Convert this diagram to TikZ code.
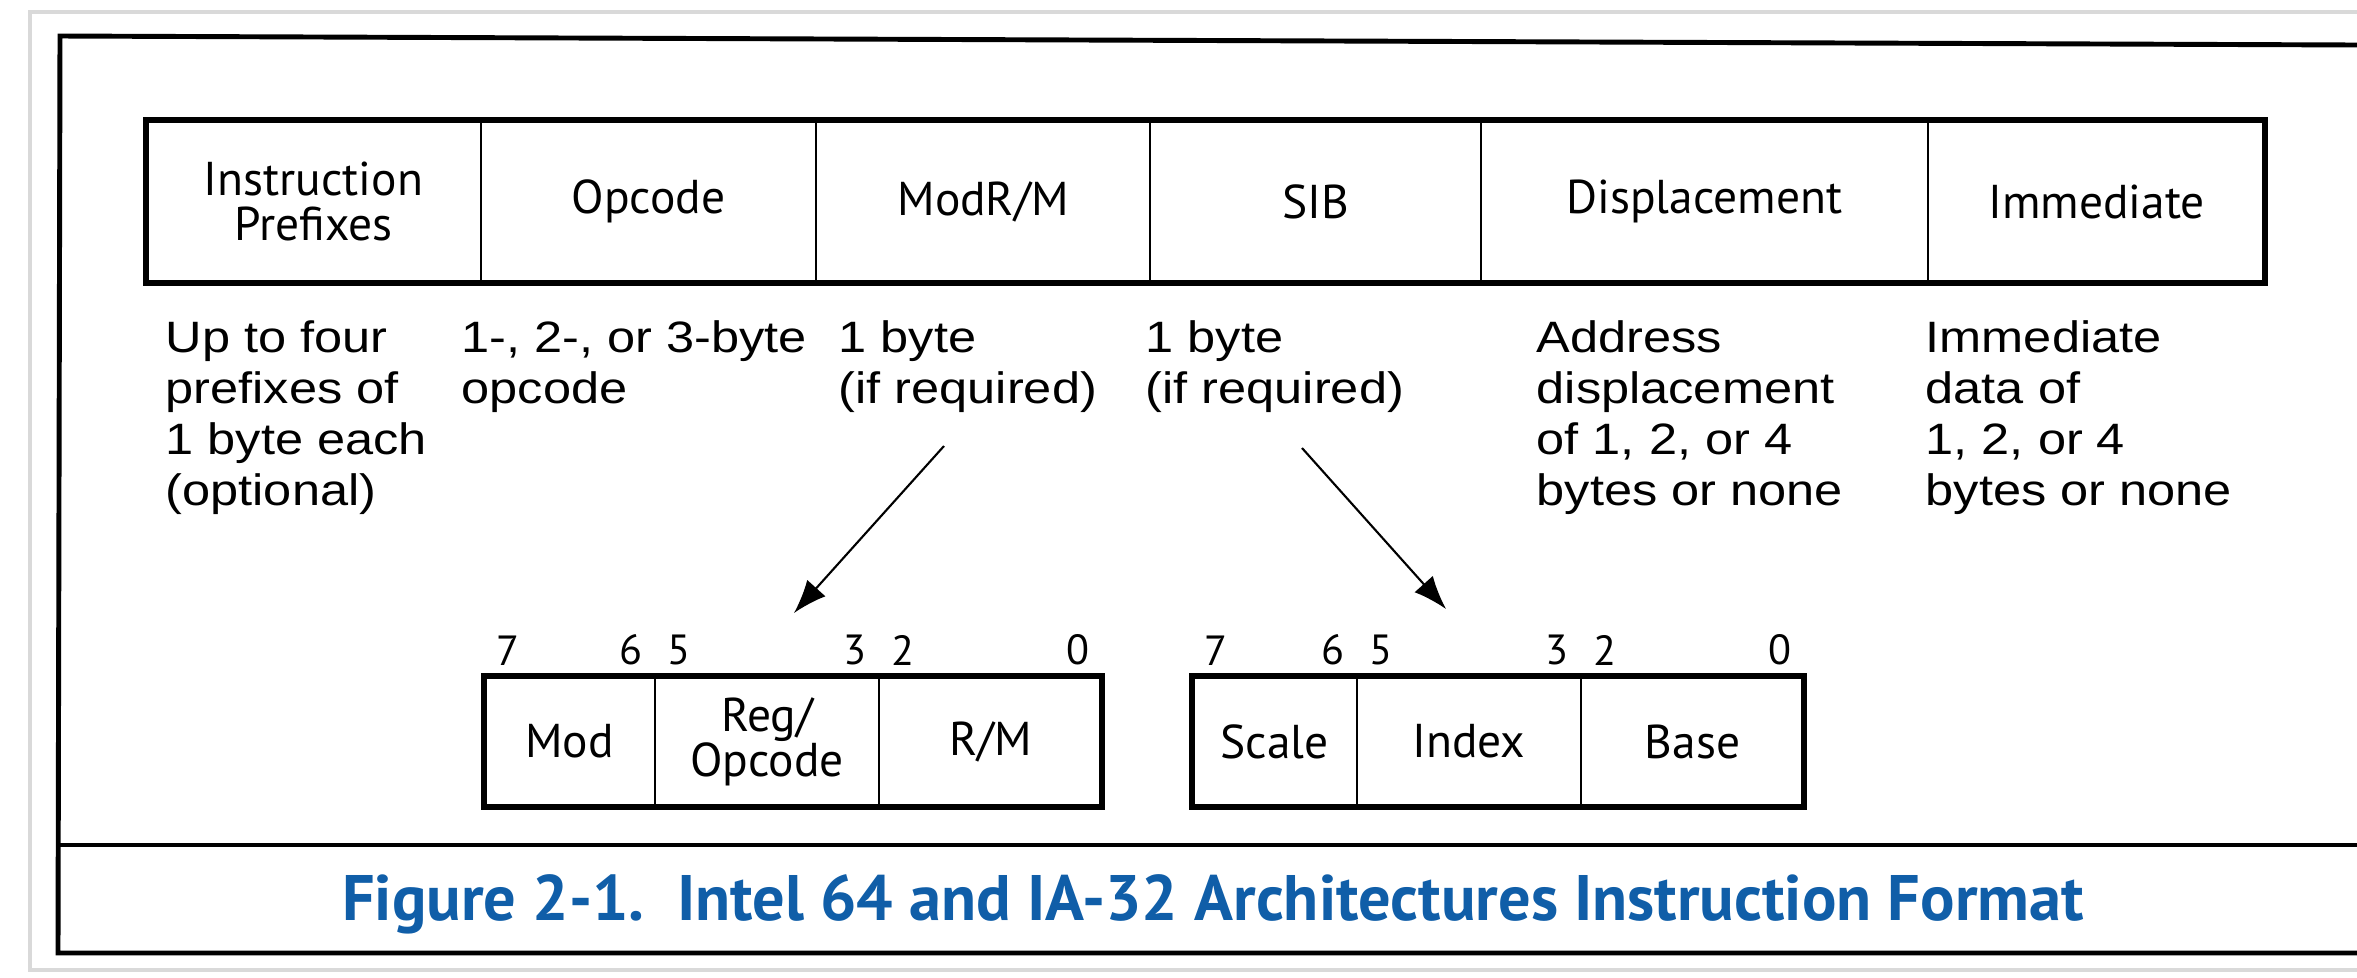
\documentclass[tikz,border=0pt]{standalone}
\usepackage{fontspec}
\usepackage{tikz}
\usetikzlibrary{positioning,arrows.meta}
\setmainfont{Liberation Sans}[FakeStretch=1.15]
\newfontfamily\clearfont{PT Sans}
\newfontfamily\capfont{PT Sans}
\definecolor{capblue}{RGB}{16,94,168}

\begin{document}
\begin{tikzpicture}
        \tikzstyle{every node}+=[inner sep=0pt]
        \tikzstyle{field}=[draw, line width=0.8pt, outer sep=0pt, minimum height=1.63cm, align=center, font=\clearfont\fontsize{13.5}{12.8}\selectfont]
        \tikzstyle{bitfield}=[draw, line width=0.8pt, outer sep=0pt, minimum height=1.31cm, align=center, font=\clearfont\fontsize{13.5}{12.8}\selectfont]
        \tikzstyle{bitno}=[inner xsep=0.12cm, inner ysep=0.1cm, font=\clearfont\fontsize{12}{12}\selectfont]
        \tikzstyle{desc}=[anchor=north west, align=left, font=\fontsize{12.5}{14.5}\selectfont]
        \tikzstyle{ptr}=[line width=0.6pt, -{Latex[length=9.5pt,width=7pt]}]
        \useasboundingbox (0,0) rectangle (23.57,-9.78);
        % frame
        \draw [black!15, line width=1pt] (23.57,-0.12) -- (0.30,-0.12) -- (0.30,-9.70) -- (23.57,-9.70);
        \draw [black, line width=1.4pt] (23.57,-0.45) -- (0.60,-0.36) -- (0.58,-9.53) -- (23.57,-9.53);
        \draw [black, line width=0.9pt] (0.59,-8.45) -- (23.57,-8.45);
        % instruction format
        \node [field, minimum width=3.35cm, anchor=north west] (pre) at (1.46,-1.20) {Instruction\\Prefixes};
        \node [field, minimum width=3.35cm, right=0pt of pre] (opc) {Opcode};
        \node [field, minimum width=3.34cm, right=0pt of opc] (modrm) {ModR/M};
        \node [field, minimum width=3.31cm, right=0pt of modrm] (sib) {SIB};
        \node [field, minimum width=4.47cm, right=0pt of sib] (disp) {Displacement};
        \node [field, minimum width=3.37cm, right=0pt of disp] (imm) {Immediate};
        \draw [black, line width=1.7pt] (pre.north west) rectangle (imm.south east);
        \node [desc] (dpre) at (1.65,-3.20) {Up to four\\prefixes of\\1 byte each\\(optional)};
        \node [desc] (dopc) at (4.61,-3.20) {1-, 2-, or 3-byte\\opcode};
        \node [desc] (dmodrm) at (8.38,-3.20) {1 byte\\(if required)};
        \node [desc] (dsib) at (11.45,-3.20) {1 byte\\(if required)};
        \node [desc] (ddisp) at (15.36,-3.20) {Address\\displacement\\of 1, 2, or 4\\bytes or none};
        \node [desc] (dimm) at (19.25,-3.20) {Immediate\\data of\\1, 2, or 4\\bytes or none};
        % ModR/M byte
        \node [bitfield, minimum width=1.71cm, anchor=north west] (mod) at (4.84,-6.76) {Mod};
        \node [bitfield, minimum width=2.24cm, right=0pt of mod] (reg) {Reg/\\Opcode};
        \node [bitfield, minimum width=2.23cm, right=0pt of reg] (rm) {R/M};
        \draw [black, line width=1.7pt] (mod.north west) rectangle (rm.south east);
        \node [bitno, anchor=south west] (m7) at (mod.north west) {7};
        \node [bitno, anchor=south east] (m6) at (mod.north east) {6};
        \node [bitno, anchor=south west] (m5) at (reg.north west) {5};
        \node [bitno, anchor=south east] (m3) at (reg.north east) {3};
        \node [bitno, anchor=south west] (m2) at (rm.north west) {2};
        \node [bitno, anchor=south east] (m0) at (rm.north east) {0};
        % SIB byte
        \node [bitfield, minimum width=1.65cm, anchor=north west] (scale) at (11.92,-6.76) {Scale};
        \node [bitfield, minimum width=2.24cm, right=0pt of scale] (index) {Index};
        \node [bitfield, minimum width=2.23cm, right=0pt of index] (base) {Base};
        \draw [black, line width=1.7pt] (scale.north west) rectangle (base.south east);
        \node [bitno, anchor=south west] (s7) at (scale.north west) {7};
        \node [bitno, anchor=south east] (s6) at (scale.north east) {6};
        \node [bitno, anchor=south west] (s5) at (index.north west) {5};
        \node [bitno, anchor=south east] (s3) at (index.north east) {3};
        \node [bitno, anchor=south west] (s2) at (base.north west) {2};
        \node [bitno, anchor=south east] (s0) at (base.north east) {0};
        % pointers
        \coordinate (modfrom) at (9.44,-4.46);
        \coordinate (modto) at (7.94,-6.13);
        \coordinate (sibfrom) at (13.02,-4.48);
        \coordinate (sibto) at (14.46,-6.09);
        \draw [ptr] (modfrom) -- (modto);
        \draw [ptr] (sibfrom) -- (sibto);
        \node [anchor=base, text=capblue, font=\capfont\bfseries\fontsize{18.3}{20}\selectfont] (cap) at (12.13,-9.20) {Figure 2-1.\ \ Intel 64 and IA-32 Architectures Instruction Format};
\end{tikzpicture}
\end{document}
